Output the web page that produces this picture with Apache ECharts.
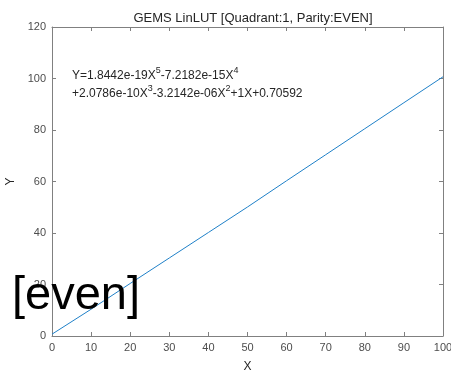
<!DOCTYPE html>
<html><head><meta charset="utf-8">
<script src="https://cdn.jsdelivr.net/npm/echarts@6/dist/echarts.min.js"></script>
<style>html,body{margin:0;padding:0;background:#fff}#c{width:451px;height:372px}</style>
</head><body><div id="c"></div>
<script>
var xValues = [0, 10, 20, 30, 40, 50, 60, 70, 80, 90, 100];
var yValues = [0.71, 10.4, 20.4, 30.3, 40.2, 50.1, 60.3, 70.4, 80.5, 90.6, 100.67];
var titleText = 'GEMS LinLUT [Quadrant:1, Parity:EVEN]';
var xTicks = {min: 0, max: 100, interval: 10};
var yTicks = {min: 0, max: 120, interval: 20};

var chart = echarts.init(document.getElementById('c'));
var font = 'Liberation Sans, Arial, sans-serif';
var axisCol = '#808080';
var lblCol = '#4d4d4d';
function ax(show, extra) {
  return Object.assign({
    type: 'value',
    axisLine: {show: true, onZero: false, lineStyle: {color: axisCol, width: 1}},
    axisTick: {show: true, inside: true, length: 4, lineStyle: {color: axisCol}},
    axisLabel: {show: show, color: lblCol, fontSize: 11, fontFamily: font, margin: 6},
    splitLine: {show: false}
  }, extra);
}
var data = xValues.map(function (x, i) { return [x, yValues[i]]; });
chart.setOption({
  animation: false,
  title: {text: titleText, left: 248, top: 7, textAlign: 'center',
    textStyle: {fontSize: 13, fontWeight: 'normal', color: '#262626', fontFamily: font}},
  grid: {left: 52, right: 8, top: 27, bottom: 36, containLabel: false, outerBoundsMode: 'none'},
  xAxis: [
    ax(true, {min: xTicks.min, max: xTicks.max, interval: xTicks.interval, position: 'bottom',
      name: 'X', nameLocation: 'middle', nameGap: 25,
      nameTextStyle: {color: '#262626', fontSize: 12, fontFamily: font}}),
    ax(false, {min: xTicks.min, max: xTicks.max, interval: xTicks.interval, position: 'top'})
  ],
  yAxis: [
    ax(true, {min: yTicks.min, max: yTicks.max, interval: yTicks.interval, position: 'left',
      name: 'Y', nameLocation: 'middle', nameGap: 31,
      nameTextStyle: {color: '#262626', fontSize: 12, fontFamily: font}}),
    ax(false, {min: yTicks.min, max: yTicks.max, interval: yTicks.interval, position: 'right'})
  ],
  series: [{
    type: 'line', data: data, showSymbol: false, symbol: 'none',
    lineStyle: {color: '#1f80c8', width: 1}
  }],
  graphic: [
    {type: 'text', left: 72, top: 64, style: {
      text: '{n|Y=1.8442e-19X}{s|5}{n|-7.2182e-15X}{s|4}\n{n|+2.0786e-10X}{s|3}{n|-3.2142e-06X}{s|2}{n|+1X+0.70592}',
      rich: {
        n: {fontSize: 12, fontFamily: font, fill: '#262626', lineHeight: 18, verticalAlign: 'bottom'},
        s: {fontSize: 9, fontFamily: font, fill: '#262626', lineHeight: 16, verticalAlign: 'top', padding: [2, 0, 0, 0]}
      }
    }},
    {type: 'text', left: 12, top: 273, z: 100, style: {
      text: '[even]', fontSize: 47, fontFamily: font, fill: '#000'
    }}
  ]
});
</script></body></html>
